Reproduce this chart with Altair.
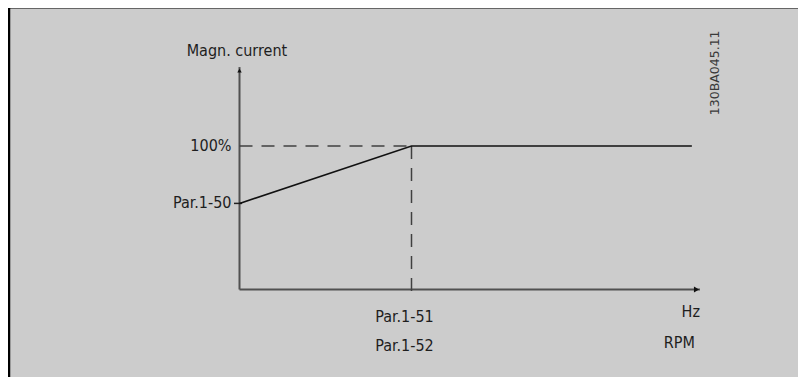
import altair as alt
import pandas as pd

# ---- data ----
curve_x = [0.0, 1.0, 2.63]
curve_y = [60, 100, 100]

dash_h_x = [0.0, 1.0]
dash_h_y = [100, 100]
dash_v_x = [1.0, 1.0]
dash_v_y = [100, -6.6]

axis_x_end = 2.677
axis_y_end = 155

ylab_text = ["100%", "Par.1-50"]
ylab_y = [100, 60]

xlab_text = ["Par.1-51", "Par.1-52"]
xlab_y = [-19.5, -39.5]

unit_text = ["Hz", "RPM"]
unit_x = [2.677, 2.648]
unit_y = [-16.0, -37.0]

FONT = "DejaVu Sans Condensed, Roboto Condensed, Open Sans, sans-serif"
TXT = "#1e1e1e"
FS = 16

x_scale = alt.Scale(domain=[0, 1], range=[231.5, 403.5])
y_scale = alt.Scale(domain=[0, 100], range=[281.5, 138])


def X(field="x"):
    return alt.X(f"{field}:Q", scale=x_scale, axis=None)


def Y(field="y"):
    return alt.Y(f"{field}:Q", scale=y_scale, axis=None)


# frame borders
top_border = alt.Chart(pd.DataFrame({"a": [0]})).mark_rule(color="#666666", strokeWidth=2).encode(
    x=alt.value(0), x2=alt.value(790), y=alt.value(0)
)
left_border = alt.Chart(pd.DataFrame({"a": [0]})).mark_rule(color="#000000", strokeWidth=2.5).encode(
    x=alt.value(1), y=alt.value(0), y2=alt.value(369)
)

# axes
axes_df = pd.DataFrame({
    "x": [0.0, 0.0], "y": [0, 0],
    "x2": [axis_x_end, 0.0], "y2": [0, axis_y_end],
})
axes = alt.Chart(axes_df).mark_rule(color="#505050", strokeWidth=2).encode(
    x=X(), y=Y(), x2="x2:Q", y2="y2:Q"
)
arrow_r = alt.Chart(pd.DataFrame({"x": [axis_x_end - 0.02], "y": [0]})).mark_point(
    shape="triangle-right", filled=True, color="#111111", size=35, opacity=1
).encode(x=X(), y=Y())
arrow_u = alt.Chart(pd.DataFrame({"x": [0.0], "y": [axis_y_end - 2.5]})).mark_point(
    shape="triangle-up", filled=True, color="#111111", size=20, opacity=1
).encode(x=X(), y=Y())

# small tick at Par.1-50
tick = alt.Chart(pd.DataFrame({"x": [-0.032], "x2": [0.015], "y": [60]})).mark_rule(
    color="#222222", strokeWidth=1.5
).encode(x=X(), x2="x2:Q", y=Y())

# dashed lines
dash_h = alt.Chart(pd.DataFrame({"x": dash_h_x, "y": dash_h_y})).mark_line(
    color="#404040", strokeWidth=1.5, strokeDash=[13, 9]
).encode(x=X(), y=Y())
dash_v = alt.Chart(pd.DataFrame({"x": dash_v_x, "y": dash_v_y})).mark_line(
    color="#404040", strokeWidth=1.5, strokeDash=[13, 9]
).encode(x=X(), y=Y())

# curve
curve = alt.Chart(pd.DataFrame({"x": curve_x, "y": curve_y})).mark_line(
    color="#111111", strokeWidth=1.6
).encode(x=X(), y=Y())

# labels
ylabels = alt.Chart(pd.DataFrame({"x": [0.0] * 2, "y": ylab_y, "t": ylab_text})).mark_text(
    align="right", baseline="middle", dx=-8, font=FONT, fontSize=FS, color=TXT
).encode(x=X(), y=Y(), text="t:N")

xlabels = alt.Chart(pd.DataFrame({"x": [1.0] * 2, "y": xlab_y, "t": xlab_text})).mark_text(
    align="center", baseline="middle", dx=-7, font=FONT, fontSize=FS, color=TXT
).encode(x=X(), y=Y(), text="t:N")

units = alt.Chart(pd.DataFrame({"x": unit_x, "y": unit_y, "t": unit_text})).mark_text(
    align="right", baseline="middle", font=FONT, fontSize=FS, color=TXT
).encode(x=X(), y=Y(), text="t:N")

title = alt.Chart(pd.DataFrame({"x": [-0.015], "y": [166], "t": ["Magn. current"]})).mark_text(
    align="center", baseline="middle", font=FONT, fontSize=FS, color=TXT
).encode(x=X(), y=Y(), text="t:N")

code = alt.Chart(pd.DataFrame({"x": [2.765], "y": [151], "t": ["130BA045.11"]})).mark_text(
    align="center", baseline="middle", angle=270, font="DejaVu Sans", fontSize=12.5, color="#3a3a3a"
).encode(x=X(), y=Y(), text="t:N")

chart = alt.layer(
    top_border, left_border, axes, arrow_r, arrow_u, tick, dash_h, dash_v, curve,
    ylabels, xlabels, units, title, code
).properties(
    width=790, height=369, autosize=alt.AutoSizeParams(type="none"), padding=0,
    background="#cccccc"
).configure_view(stroke=None)

chart.save("out.html", embed_options={"renderer": "svg", "actions": False})
